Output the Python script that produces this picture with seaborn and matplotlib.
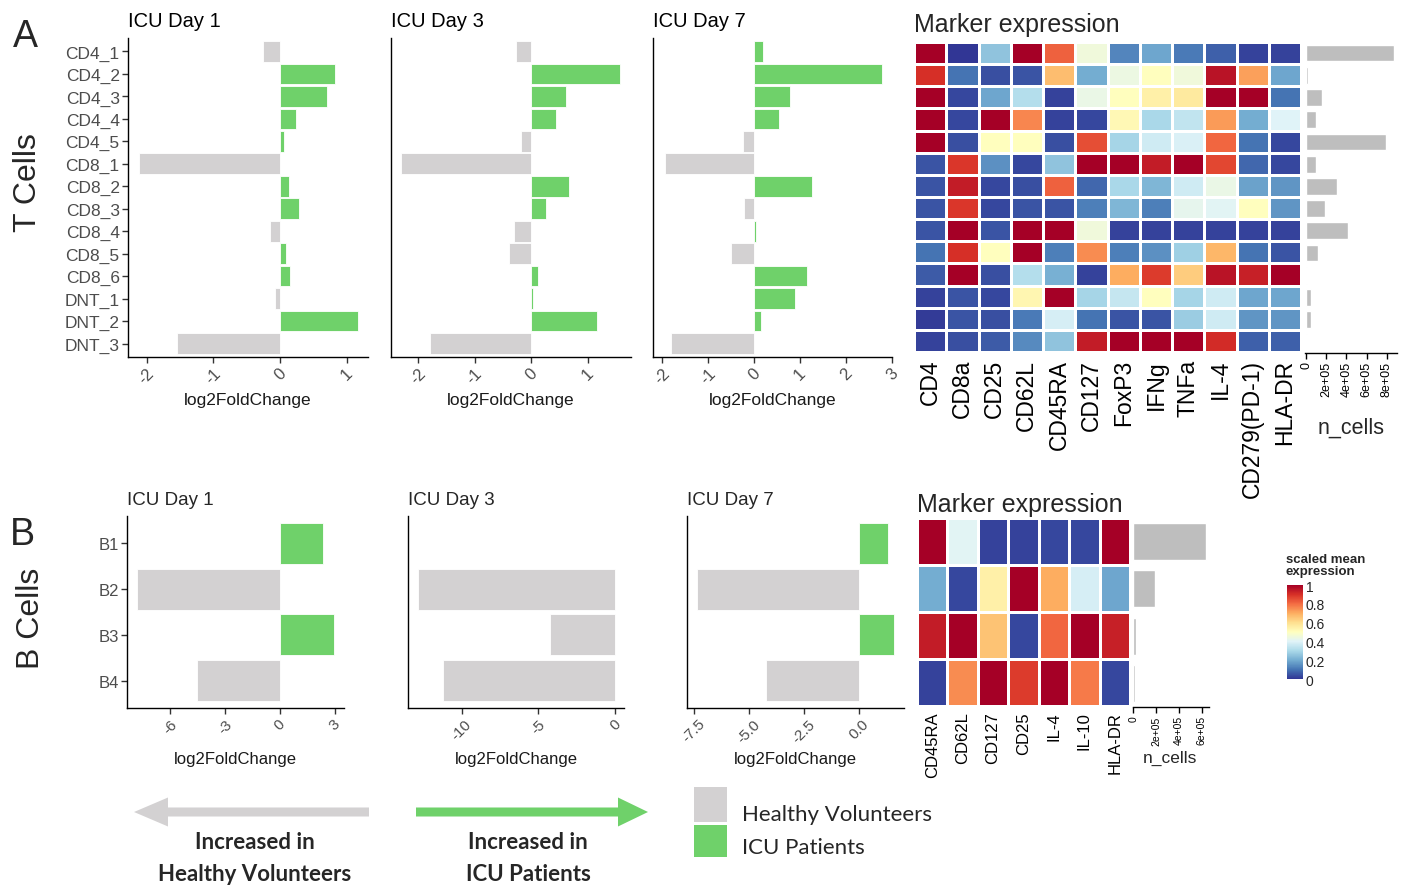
import numpy as np
import pandas as pd
import matplotlib
matplotlib.use("Agg")
import matplotlib.pyplot as plt
import seaborn as sns
from matplotlib.patches import FancyArrow, Rectangle

# ---------------- data ----------------
t_clusters = ["CD4_1", "CD4_2", "CD4_3", "CD4_4", "CD4_5", "CD8_1", "CD8_2",
              "CD8_3", "CD8_4", "CD8_5", "CD8_6", "DNT_1", "DNT_2", "DNT_3"]
t_lfc_day1 = [-0.26, 0.83, 0.71, 0.24, 0.06, -2.11, 0.13, 0.28, -0.15, 0.09, 0.15, -0.08, 1.17, -1.54]
t_lfc_day3 = [-0.26, 1.57, 0.62, 0.44, -0.18, -2.30, 0.68, 0.27, -0.30, -0.39, 0.12, 0.04, 1.17, -1.79]
t_lfc_day7 = [0.20, 2.79, 0.78, 0.54, -0.25, -1.94, 1.27, -0.22, 0.05, -0.50, 1.14, 0.88, 0.14, -1.80]
t_markers = ["CD4", "CD8a", "CD25", "CD62L", "CD45RA", "CD127", "FoxP3", "IFNg",
             "TNFa", "IL-4", "CD279(PD-1)", "HLA-DR"]
t_expr = [
    [1.00, 0.00, 0.25, 1.00, 0.82, 0.45, 0.13, 0.19, 0.11, 0.07, 0.02, 0.02],
    [0.90, 0.10, 0.04, 0.05, 0.67, 0.20, 0.44, 0.50, 0.45, 0.96, 0.72, 0.19],
    [1.00, 0.03, 0.19, 0.32, 0.02, 0.43, 0.50, 0.55, 0.57, 1.00, 1.00, 0.10],
    [1.00, 0.03, 1.00, 0.76, 0.02, 0.03, 0.52, 0.30, 0.34, 0.73, 0.20, 0.40],
    [1.00, 0.04, 0.50, 0.50, 0.04, 0.85, 0.29, 0.37, 0.39, 0.81, 0.10, 0.03],
    [0.05, 0.89, 0.15, 0.03, 0.25, 1.00, 1.00, 0.94, 1.00, 0.86, 0.08, 0.03],
    [0.05, 0.94, 0.03, 0.04, 0.82, 0.08, 0.30, 0.22, 0.37, 0.43, 0.18, 0.16],
    [0.05, 0.89, 0.03, 0.05, 0.05, 0.12, 0.22, 0.12, 0.42, 0.41, 0.50, 0.16],
    [0.05, 1.00, 0.05, 1.00, 1.00, 0.45, 0.02, 0.02, 0.02, 0.02, 0.02, 0.02],
    [0.10, 0.90, 0.50, 1.00, 0.12, 0.75, 0.12, 0.15, 0.28, 0.68, 0.10, 0.05],
    [0.06, 1.00, 0.04, 0.32, 0.21, 0.02, 0.70, 0.88, 0.64, 0.96, 0.93, 1.00],
    [0.02, 0.05, 0.03, 0.53, 1.00, 0.29, 0.35, 0.50, 0.29, 0.37, 0.19, 0.19],
    [0.01, 0.05, 0.04, 0.11, 0.38, 0.10, 0.05, 0.05, 0.27, 0.37, 0.16, 0.16],
    [0.02, 0.04, 0.06, 0.14, 0.25, 0.94, 1.00, 1.00, 1.00, 0.91, 0.07, 0.07],
]
t_ncells = [870000, 15000, 158000, 99000, 796000, 99000, 306000, 184000,
            418000, 122000, 10000, 46000, 46000, 13000]
t_ncells_ticks = [0, 200000, 400000, 600000, 800000]
t_ncells_ticklabels = ["0", "2e+05", "4e+05", "6e+05", "8e+05"]

b_clusters = ["B1", "B2", "B3", "B4"]
b_lfc_day1 = [2.37, -7.80, 2.98, -4.51]
b_lfc_day3 = [0.0, -12.87, -4.23, -11.20]
b_lfc_day7 = [1.34, -7.36, 1.62, -4.23]
b_markers = ["CD45RA", "CD62L", "CD127", "CD25", "IL-4", "IL-10", "HLA-DR"]
b_expr = [
    [1.00, 0.41, 0.02, 0.02, 0.03, 0.03, 1.00],
    [0.20, 0.03, 0.55, 1.00, 0.70, 0.38, 0.19],
    [0.94, 1.00, 0.66, 0.03, 0.81, 1.00, 0.93],
    [0.02, 0.75, 1.00, 0.88, 1.00, 0.78, 0.03],
]
b_ncells = [640000, 190000, 20000, 12000]
b_ncells_ticks = [0, 200000, 400000, 600000]
b_ncells_ticklabels = ["0", "2e+05", "4e+05", "6e+05"]

day_titles = ["ICU Day 1", "ICU Day 3", "ICU Day 7"]
legend_labels = ["Healthy Volunteers", "ICU Patients"]

# ---------------- style ----------------
GRAY = "#d3d1d2"
GREEN = "#6fd16a"
NGRAY = "#bebebe"
TICKC = "#4d4d4d"

sns.set_theme(style="white")
plt.rcParams["font.family"] = ["Liberation Sans", "DejaVu Sans"]
plt.rcParams["axes.unicode_minus"] = False

W, H = 1412, 887
fig = plt.figure(figsize=(W / 100, H / 100), dpi=100)
fig.patch.set_facecolor("white")


def add_ax(x0, y0, x1, y1):
    return fig.add_axes([x0 / W, 1 - y1 / H, (x1 - x0) / W, (y1 - y0) / H])


def ftext(x, y, s, **kw):
    return fig.text(x / W, 1 - y / H, s, **kw)


def style_classic(ax):
    for side in ["top", "right"]:
        ax.spines[side].set_visible(False)
    for side in ["left", "bottom"]:
        ax.spines[side].set_color("black")
        ax.spines[side].set_linewidth(1.0)


def bar_panel(box, cats, vals, xlim, ticks, ticklabels, ylim, show_y,
              tick_fs, ylab_fs, bar_w):
    ax = add_ax(*box)
    df = pd.DataFrame({"cluster": cats, "lfc": vals})
    df["dir"] = np.where(df["lfc"] > 0, legend_labels[1], legend_labels[0])
    sns.barplot(data=df, x="lfc", y="cluster", hue="dir", order=cats,
                hue_order=legend_labels, palette=[GRAY, GREEN], orient="h",
                dodge=False, width=bar_w, saturation=1, edgecolor="white",
                linewidth=0.6, legend=False, ax=ax)
    style_classic(ax)
    ax.set_xlim(*xlim)
    ax.set_ylim(*ylim)
    ax.set_xticks(ticks)
    ax.set_xticklabels(ticklabels, rotation=45, ha="center", va="top",
                       fontsize=tick_fs, color=TICKC)
    ax.tick_params(axis="x", length=4, width=1, color="#333333", pad=2,
                   bottom=True)
    if show_y:
        ax.set_yticks(range(len(cats)))
        ax.set_yticklabels(cats, fontsize=ylab_fs, color=TICKC)
        ax.tick_params(axis="y", length=4, width=1, color="#333333", pad=2,
                       left=True)
    else:
        ax.set_yticks([])
    ax.set_xlabel("")
    ax.set_ylabel("")
    return ax


# ---------------- Panel A: T cells ----------------
a_boxes = [(128, 39, 368, 358), (391, 39, 631, 358), (653, 39, 892, 358)]
a_vals = [t_lfc_day1, t_lfc_day3, t_lfc_day7]
a_xlims = [(-2.28, 1.32), (-2.48, 1.77), (-2.2, 2.98)]
a_ticks = [[-2, -1, 0, 1], [-2, -1, 0, 1], [-2, -1, 0, 1, 2, 3]]
for i in range(3):
    bar_panel(a_boxes[i], t_clusters, a_vals[i], a_xlims[i], a_ticks[i],
              [str(t) for t in a_ticks[i]], (13.6, -0.6), i == 0,
              12, 12.5, 0.92)
    x0, y0, x1, y1 = a_boxes[i]
    ftext(x0, 27, day_titles[i], fontsize=14.5, color="black", va="baseline")
    ftext((x0 + x1) / 2, 401, "log2FoldChange", fontsize=12.5, ha="center",
          va="center", color="#1a1a1a")

ftext(13, 47, "A", fontsize=27, va="baseline")
ftext(28, 183, "T Cells", fontsize=23, rotation=90, ha="center", va="center")

# heatmap A
axh = add_ax(914, 43, 1301, 353)
sns.heatmap(pd.DataFrame(t_expr, index=t_clusters, columns=t_markers),
            cmap="RdYlBu_r", vmin=0, vmax=1, linewidths=0.8, linecolor="white",
            cbar=False, ax=axh, yticklabels=False)
axh.set_xticks(np.arange(len(t_markers)) + 0.5)
axh.set_xticklabels(t_markers, rotation=90, fontsize=16.5, color="black")
axh.tick_params(axis="x", length=0, pad=5)
axh.set_xlabel("")
axh.set_ylabel("")
ftext(914, 32, "Marker expression", fontsize=18, va="baseline")

# n_cells A
axn = add_ax(1305, 43, 1397, 354)
sns.barplot(data=pd.DataFrame({"cluster": t_clusters, "n": t_ncells}),
            x="n", y="cluster", order=t_clusters, orient="h", color=NGRAY,
            saturation=1, width=0.75, ax=axn)
style_classic(axn)
axn.spines["left"].set_visible(False)
axn.set_ylim(13.5, -0.5)
axn.set_xlim(-10000, 900000)
axn.set_yticks([])
axn.set_xticks(t_ncells_ticks)
axn.set_xticklabels(t_ncells_ticklabels, rotation=90, fontsize=9, color="black")
axn.tick_params(axis="x", length=4, width=1, color="black", pad=2, bottom=True)
axn.set_xlabel("")
axn.set_ylabel("")
ftext(1351, 428, "n_cells", fontsize=15.5, ha="center", va="center")

# ---------------- Panel B: B cells ----------------
b_boxes = [(127, 517, 344, 709), (408, 517, 624, 709), (687, 517, 904, 709)]
b_vals = [b_lfc_day1, b_lfc_day3, b_lfc_day7]
b_xlims = [(-8.34, 3.5), (-13.5, 0.58), (-7.82, 2.06)]
b_ticks = [[-6, -3, 0, 3], [-10, -5, 0], [-7.5, -5.0, -2.5, 0.0]]
b_tlabels = [["-6", "-3", "0", "3"], ["-10", "-5", "0"],
             ["-7.5", "-5.0", "-2.5", "0.0"]]
for i in range(3):
    bar_panel(b_boxes[i], b_clusters, b_vals[i], b_xlims[i], b_ticks[i],
              b_tlabels[i], (3.6, -0.6), i == 0, 11, 12, 0.9)
    x0, y0, x1, y1 = b_boxes[i]
    ftext(x0, 505, day_titles[i], fontsize=13.5, va="baseline")
    ftext((x0 + x1) / 2, 760, "log2FoldChange", fontsize=12, ha="center",
          va="center", color="#1a1a1a")

ftext(10, 545, "B", fontsize=27, va="baseline")
ftext(31, 618, "B Cells", fontsize=23, rotation=90, ha="center", va="center")

# heatmap B with colorbar
axhb = add_ax(917, 519, 1130, 707)
cax = add_ax(1287, 586, 1303, 680)
sns.heatmap(pd.DataFrame(b_expr, index=b_clusters, columns=b_markers),
            cmap="RdYlBu_r", vmin=0, vmax=1, linewidths=0.8, linecolor="white",
            cbar=True, cbar_ax=cax, ax=axhb, yticklabels=False)
axhb.set_xticks(np.arange(len(b_markers)) + 0.5)
axhb.set_xticklabels(b_markers, rotation=90, fontsize=12, color="black")
axhb.tick_params(axis="x", length=0, pad=4)
axhb.set_xlabel("")
axhb.set_ylabel("")
ftext(917, 512, "Marker expression", fontsize=18, va="baseline")

cax.set_yticks([0, 0.2, 0.4, 0.6, 0.8, 1])
cax.set_yticklabels(["0", "0.2", "0.4", "0.6", "0.8", "1"], fontsize=10)
cax.tick_params(axis="y", direction="in", color="white", length=3, width=1,
                pad=2, right=True, left=True)
for s in cax.spines.values():
    s.set_visible(False)
ftext(1286, 566, "scaled mean\nexpression", fontsize=9.5, fontweight="bold",
      va="center", linespacing=0.95)

# n_cells B
axnb = add_ax(1133, 519, 1209, 708)
sns.barplot(data=pd.DataFrame({"cluster": b_clusters, "n": b_ncells}),
            x="n", y="cluster", order=b_clusters, orient="h", color=NGRAY,
            saturation=1, width=0.78, ax=axnb)
style_classic(axnb)
axnb.spines["left"].set_visible(False)
axnb.set_ylim(3.5, -0.5)
axnb.set_xlim(-3000, 666000)
axnb.set_yticks([])
axnb.set_xticks(b_ncells_ticks)
axnb.set_xticklabels(b_ncells_ticklabels, rotation=90, fontsize=7.5, color="black")
axnb.tick_params(axis="x", length=4, width=1, color="black", pad=2, bottom=True)
axnb.set_xlabel("")
axnb.set_ylabel("")
ftext(1170, 758, "n_cells", fontsize=12.5, ha="center", va="center")

# ---------------- bottom legend / arrows ----------------
ov = fig.add_axes([0, 0, 1, 1], facecolor="none")
ov.set_xlim(0, W)
ov.set_ylim(H, 0)
ov.axis("off")
ov.add_patch(FancyArrow(369, 813, -(369 - 134), 0, width=9, head_width=29,
                        head_length=34, length_includes_head=True,
                        color=GRAY, lw=0))
ov.add_patch(FancyArrow(416, 813, 648 - 416, 0, width=9, head_width=29,
                        head_length=30, length_includes_head=True,
                        color=GREEN, lw=0))
bold_kw = dict(fontsize=16, fontweight="bold", ha="center", va="center",
               family=["Lato", "DejaVu Sans"])
ov.text(255, 843, "Increased in", **bold_kw)
ov.text(255, 875, "Healthy Volunteers", **bold_kw)
ov.text(528, 843, "Increased in", **bold_kw)
ov.text(528, 875, "ICU Patients", **bold_kw)
ov.add_patch(Rectangle((694, 788), 33, 35, color=GRAY, lw=0))
ov.add_patch(Rectangle((694, 826), 33, 32, color=GREEN, lw=0))
reg_kw = dict(fontsize=16, ha="left", va="center", family=["Lato", "DejaVu Sans"])
ov.text(742, 815, legend_labels[0], **reg_kw)
ov.text(742, 848, legend_labels[1], **reg_kw)

fig.savefig("out.png", dpi=100, facecolor="white")
